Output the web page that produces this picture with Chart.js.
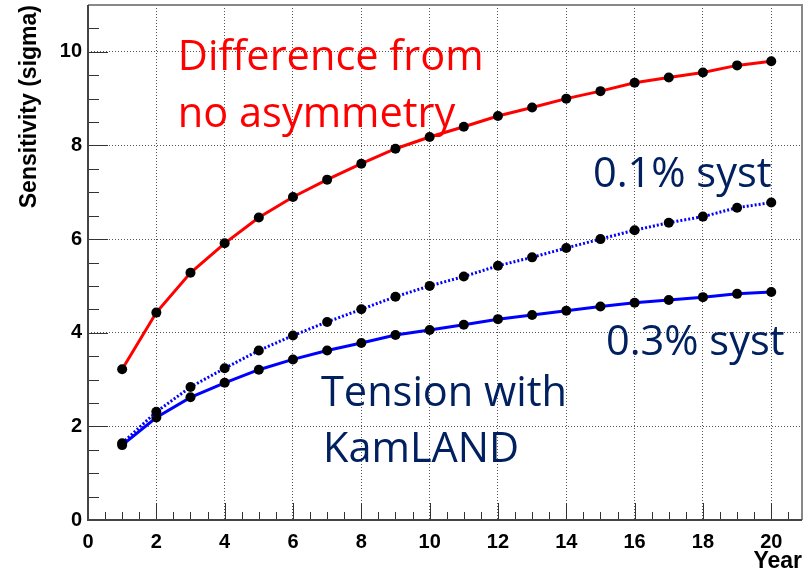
<!DOCTYPE html>
<html>
<head>
<meta charset="utf-8">
<script src="https://cdn.jsdelivr.net/npm/chart.js@4.4.1/dist/chart.umd.min.js"></script>
<style>
  html,body{margin:0;padding:0;background:#fff}
  #wrap{width:808px;height:576px;position:relative}
</style>
</head>
<body>
<div id="wrap"><canvas id="sens"></canvas></div>
<script>
// data
const years = [1,2,3,4,5,6,7,8,9,10,11,12,13,14,15,16,17,18,19,20];
const diffNoAsym = [3.22,4.43,5.28,5.91,6.46,6.90,7.27,7.61,7.93,8.18,8.40,8.63,8.81,9.00,9.16,9.34,9.45,9.56,9.71,9.80];
const syst01 = [1.64,2.31,2.84,3.24,3.62,3.94,4.23,4.50,4.77,5.00,5.20,5.43,5.61,5.81,6.00,6.19,6.35,6.48,6.67,6.78];
const syst03 = [1.60,2.19,2.62,2.93,3.21,3.43,3.62,3.78,3.95,4.06,4.17,4.29,4.38,4.47,4.56,4.64,4.70,4.76,4.83,4.87];
const xTicks = [0,2,4,6,8,10,12,14,16,18,20];
const yTicks = [0,2,4,6,8,10];

const notes = [
  {text:'Difference from', x:2.63, y:9.61, color:'#ff0000'},
  {text:'no asymmetry', x:2.63, y:8.39, color:'#ff0000'},
  {text:'0.1% syst', x:14.78, y:7.11, color:'#002060'},
  {text:'0.3% syst', x:15.16, y:3.52, color:'#002060'},
  {text:'Tension with', x:6.82, y:2.43, color:'#002060'},
  {text:'KamLAND', x:6.88, y:1.24, color:'#002060'}
];
const NOTE_FONT = '41.5px "Open Sans"';
const TICK_FONT = {family:'"Liberation Sans", Arial', weight:'bold', size:20};
const TITLE_FONT = {family:'"Liberation Sans", Arial', weight:'bold', size:23};

function pts(vals){ return years.map((x,i)=>({x, y:vals[i]})); }

// ROOT-like frame with inner tick marks
const frameTicks = {
  id:'frameTicks',
  beforeDatasetsDraw(chart){
    const {ctx, chartArea:a, scales:{x, y}} = chart;
    ctx.save();
    ctx.strokeStyle = '#333'; ctx.lineWidth = 1;
    ctx.beginPath();
    for(let v=0.5; v<=x.max; v+=0.5){
      const px = Math.round(x.getPixelForValue(v))+0.5;
      const len = v%2===0 ? 17 : 8;
      ctx.moveTo(px, a.bottom); ctx.lineTo(px, a.bottom-len);
    }
    for(let v=0.5; v<=y.max; v+=0.5){
      const py = Math.round(y.getPixelForValue(v))+0.5;
      const len = v%2===0 ? 20 : 11;
      ctx.moveTo(a.left, py); ctx.lineTo(a.left+len, py);
    }
    ctx.stroke();
    ctx.lineWidth = 2;
    ctx.strokeStyle = '#888';
    ctx.beginPath();
    ctx.moveTo(a.left, a.top); ctx.lineTo(a.right, a.top); ctx.lineTo(a.right, a.bottom);
    ctx.stroke();
    ctx.strokeStyle = '#444';
    ctx.beginPath();
    ctx.moveTo(a.left, a.top); ctx.lineTo(a.left, a.bottom); ctx.lineTo(a.right, a.bottom);
    ctx.stroke();
    ctx.restore();
  },
  afterDraw(chart){
    const {ctx, scales:{x, y}} = chart;
    ctx.save();
    ctx.font = NOTE_FONT;
    ctx.textBaseline = 'alphabetic';
    ctx.textAlign = 'left';
    notes.forEach(n=>{
      ctx.fillStyle = n.color;
      ctx.fillText(n.text, x.getPixelForValue(n.x), y.getPixelForValue(n.y));
    });
    ctx.restore();
  }
};

const ctx = document.getElementById('sens').getContext('2d');
const dot = {pointBackgroundColor:'#000', pointBorderColor:'#000', pointBorderWidth:0, pointRadius:5};
new Chart(ctx, {
  type:'line',
  data:{
    datasets:[
      {label:'Difference from no asymmetry', data:pts(diffNoAsym), borderColor:'#ff0000', borderWidth:3, ...dot},
      {label:'0.1% syst', data:pts(syst01), borderColor:'#0000ff', borderWidth:3, borderDash:[2,2], ...dot},
      {label:'0.3% syst', data:pts(syst03), borderColor:'#0000ff', borderWidth:3, ...dot}
    ]
  },
  options:{
    responsive:true, maintainAspectRatio:false, animation:false,
    layout:{padding:{left:0, right:6, top:5, bottom:0}},
    elements:{line:{tension:0, fill:false}},
    plugins:{legend:{display:false}, tooltip:{enabled:false}},
    scales:{
      x:{
        type:'linear', min:0, max:20.9,
        afterBuildTicks:s=>{ s.ticks = xTicks.map(v=>({value:v})); },
        afterFit:s=>{ s.height = 56; s.paddingLeft = 0; s.paddingRight = 0; },
        grid:{color:'#555', lineWidth:1, drawTicks:false},
        border:{display:false, dash:[1,2]},
        ticks:{color:'#000', font:TICK_FONT, padding:10, maxRotation:0},
        title:{display:true, text:'Year', align:'end', color:'#000', font:TITLE_FONT, padding:{top:0, bottom:1}}
      },
      y:{
        min:0, max:11,
        afterBuildTicks:s=>{ s.ticks = yTicks.map(v=>({value:v})); },
        afterFit:s=>{ s.width = 88; s.paddingTop = 0; s.paddingBottom = 0; },
        grid:{color:'#555', lineWidth:1, drawTicks:false},
        border:{display:false, dash:[1,2]},
        ticks:{color:'#000', font:TICK_FONT, padding:6},
        title:{display:true, text:'Sensitivity (sigma)', align:'end', color:'#000', font:TITLE_FONT, padding:{top:16, bottom:0}}
      }
    }
  },
  plugins:[frameTicks]
});
</script>
</body>
</html>
